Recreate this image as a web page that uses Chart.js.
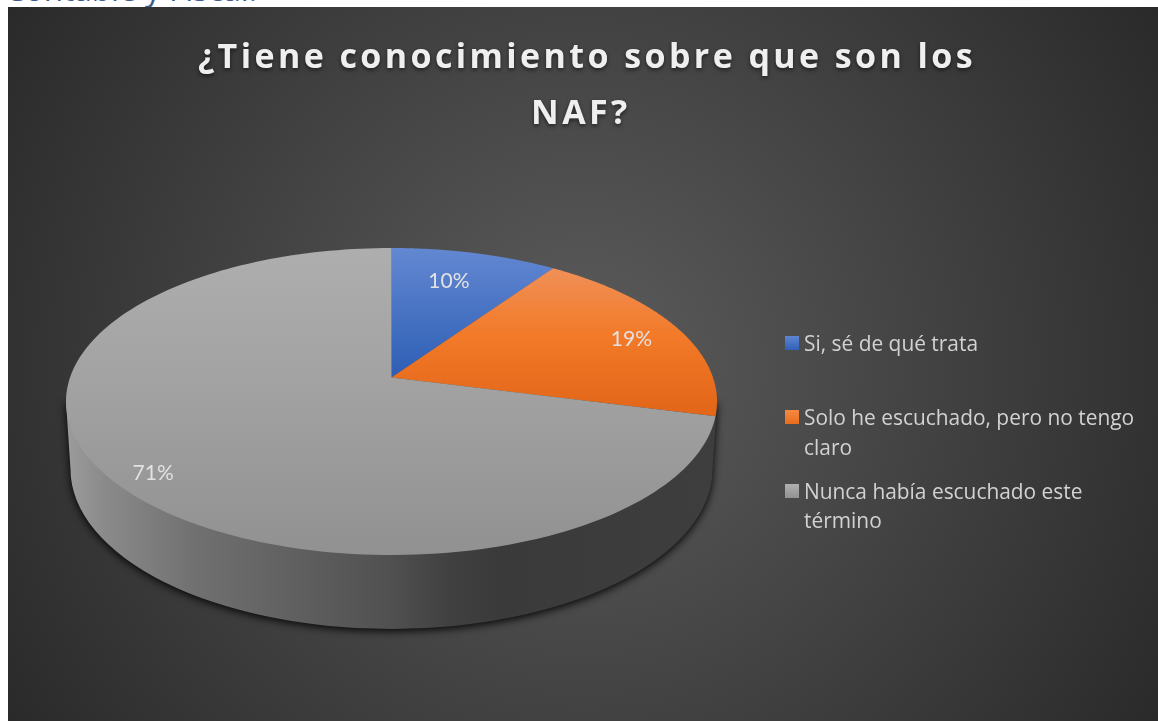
<!DOCTYPE html>
<html lang="es"><head><meta charset="utf-8">
<style>
html,body{margin:0;padding:0;background:#fff;overflow:hidden;width:1158px;height:721px}
#head{position:absolute;left:5px;top:-31px;font:31.5px "Open Sans",sans-serif;color:#3c5a8c;white-space:nowrap;line-height:40px}
#box{position:absolute;left:8px;top:7px;width:1150px;height:714px;background:radial-gradient(circle farthest-corner at 50% 50%,#5c5c5c 0%,#2a2a2a 100%)}
canvas{display:block}
</style>
<script src="https://cdn.jsdelivr.net/npm/chart.js@4"></script>
</head><body>
<div id="head">Contable y Fiscal:</div>
<div id="box"><canvas id="c" width="1150" height="714"></canvas></div>
<script>
const titleLines = ["¿Tiene conocimiento sobre que son los", "NAF? "];
const categories = ["Si, sé de qué trata", "Solo he escuchado, pero no tengo claro", "Nunca había escuchado este término"];
const values = [9.6, 19.4, 71];
const percentLabels = ["10%", "19%", "71%"];

// presentation only
const legendLines = [["Si, sé de qué trata"], ["Solo he escuchado, pero no tengo", "claro"], ["Nunca había escuchado este", "término"]];
const legendBaselines = [[350], [424, 454], [498, 527]];
const labelNudges = [[-7, 0], [23, 0], [-33, 22]];
const sliceStops = [
  [[0, "#6388d2"], [1, "#2d5eb4"]],
  [[0, "#f09058"], [0.45, "#f27a28"], [1, "#e26518"]],
  [[0, "#aeaeae"], [0.45, "#a2a2a2"], [1, "#919191"]]
];
const swatchStops = [["#5f85d2", "#2f60b6"], ["#f48a42", "#e96c1c"], ["#b0b0b0", "#929292"]];
const PX = 8, PY = 7;
const AX = 391.5, AY = 377.5, K = -0.1564, BX = 321.5, BY = 149.75;
function project(a, f) {
  const x = Math.cos(a) * f, y = Math.sin(a) * f, d = 1 + K * y;
  return [AX + BX * x / d, AY + BY * y / d];
}
function vgrad(ctx, y0, y1, stops) {
  const g = ctx.createLinearGradient(0, y0, 0, y1);
  stops.forEach(s => g.addColorStop(s[0], s[1]));
  return g;
}
const pie3d = {
  id: "pie3d",
  beforeDraw(chart) {
    const c = chart.ctx;
    c.shadowColor = "rgba(0,0,0,0.55)"; c.shadowBlur = 4; c.shadowOffsetY = 2;
    c.letterSpacing = "3.4px";
  },
  beforeDatasetsDraw(chart) {
    const c = chart.ctx, arcs = chart.getDatasetMeta(0).data;
    c.shadowColor = "transparent"; c.shadowBlur = 0; c.shadowOffsetY = 0;
    c.letterSpacing = "0px";
    c.save();
    c.translate(-PX, -PY);
    // side wall
    const g = c.createLinearGradient(66, 0, 717, 0);
    [[0, "#9c9c9c"], [0.06, "#8a8a8a"], [0.2, "#707070"], [0.36, "#5f5f5f"], [0.5, "#505050"], [0.59, "#404040"], [0.67, "#3a3a3a"], [1, "#3e3e3e"]]
      .forEach(s => g.addColorStop(s[0], s[1]));
    c.save();
    c.shadowColor = "rgba(0,0,0,0.95)"; c.shadowBlur = 9; c.shadowOffsetY = 2;
    c.fillStyle = g;
    c.beginPath();
    c.moveTo(66, 402);
    c.lineTo(717, 402);
    c.lineTo(712.5, 469);
    c.ellipse(391.5, 469, 321, 160, 0, 0, Math.PI);
    c.closePath();
    c.fill();
    c.restore();
    // top face
    arcs.forEach((arc, i) => {
      const n = 160, pts = [];
      for (let k = 0; k <= n; k++) pts.push(project(arc.startAngle + (arc.endAngle - arc.startAngle) * k / n, 1));
      const ys = pts.map(p => p[1]).concat(AY);
      c.beginPath();
      c.moveTo(AX, AY);
      pts.forEach(p => c.lineTo(p[0], p[1]));
      c.closePath();
      c.fillStyle = vgrad(c, Math.min(...ys), Math.max(...ys), sliceStops[i]);
      c.fill();
    });
    c.restore();
    return false;
  },
  afterDraw(chart) {
    const c = chart.ctx, arcs = chart.getDatasetMeta(0).data;
    c.save();
    c.translate(-PX, -PY);
    c.textBaseline = "middle"; c.textAlign = "center";
    c.font = '21px Lato, sans-serif';
    c.fillStyle = "#e2e2e2";
    arcs.forEach((arc, i) => {
      const p = project((arc.startAngle + arc.endAngle) / 2, 0.75);
      c.fillText(percentLabels[i], p[0] + labelNudges[i][0], p[1] + labelNudges[i][1]);
    });
    c.textBaseline = "alphabetic"; c.textAlign = "left";
    c.font = '20.9px "Open Sans", sans-serif';
    legendLines.forEach((lines, i) => {
      const base = legendBaselines[i][0];
      c.fillStyle = vgrad(c, base - 14, base, swatchStops[i].map((s, j) => [j, s]));
      c.fillRect(785, base - 14, 14, 14);
      c.fillStyle = "#d2d2d2";
      lines.forEach((t, j) => c.fillText(t, 804, legendBaselines[i][j] + 1));
    });
    c.restore();
  }
};
new Chart(document.getElementById("c"), {
  type: "pie",
  data: { labels: categories, datasets: [{ data: values, backgroundColor: ["#4472c4", "#ed7d31", "#a5a5a5"], borderWidth: 0 }] },
  plugins: [pie3d],
  options: {
    responsive: false, animation: false,
    layout: { padding: { left: 8 } },
    plugins: {
      legend: { display: false },
      tooltip: { enabled: false },
      title: {
        display: true, text: titleLines, color: "#efefef",
        font: { family: '"Open Sans", sans-serif', size: 34, weight: "bold", lineHeight: 1.65 },
        padding: { top: 23, bottom: 10 }
      }
    }
  }
});
</script>
</body></html>
